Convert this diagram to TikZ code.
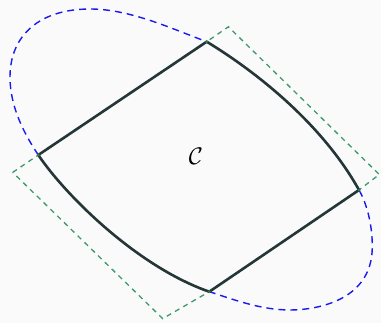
\documentclass[tikz,border=0pt]{standalone}
\definecolor{edgecol}{HTML}{243636}
\definecolor{bluecol}{HTML}{1A1AF0}
\definecolor{greencol}{HTML}{3C9A6A}
\definecolor{dotcol}{HTML}{2E7A50}
\definecolor{bgcol}{HTML}{FAFAFA}
\begin{document}
\begin{tikzpicture}[x=1pt,y=-1pt,
  edge/.style={draw=edgecol, line width=2.6pt, line join=round},
  bluedash/.style={draw=bluecol, line width=1.4pt, dash pattern=on 7pt off 5pt},
  greendash/.style={draw=greencol, line width=1.3pt, dash pattern=on 5pt off 4.5pt},
  vdot/.style={circle, fill=dotcol, inner sep=0pt, minimum size=3.2pt}]
\fill[bgcol] (0,0) rectangle (381,323);
\useasboundingbox (0,0) rectangle (381,323);
\coordinate (A) at (38.3,155);
\coordinate (B) at (206.7,41.7);
\coordinate (D) at (359,190);
\coordinate (E) at (209.3,291.7);
\coordinate (L) at (12.7,172.4);
\coordinate (T) at (228.4,26.8);
\coordinate (R) at (379.3,174.5);
\coordinate (Bm) at (162.7,318.6);
% green parallelogram (its edges pass through the four vertices)
\draw[greendash] (L) -- (A) -- (B) -- (T) -- (R) -- (D) -- (E) -- (Bm) -- cycle;
% blue closed curve
\draw[bluedash] (A) .. controls (24.3,134) and (10,107) .. (10,77)
  .. controls (10,35) and (40,9) .. (90,9)
  .. controls (130,9) and (171.7,28.7) .. (B)
  .. controls (250,68) and (320,120) .. (D)
  .. controls (367,204) and (372.3,224.7) .. (372.3,246.7)
  .. controls (372.3,303) and (312,310) .. (290,310)
  .. controls (260,310) and (231.3,298.7) .. (E)
  .. controls (138,267) and (66,196) .. (A);
% black region
\draw[edge] (A) -- (B) .. controls (250,68) and (320,120) .. (D)
  -- (E) .. controls (138,267) and (66,196) .. cycle;
\node[vdot] (va) at (A) {};
\node[vdot] (vb) at (B) {};
\node[vdot] (vd) at (D) {};
\node[vdot] (ve) at (E) {};
\node[scale=2.4] (lbl) at (196,156) {$\mathcal{C}$};
\end{tikzpicture}
\end{document}
